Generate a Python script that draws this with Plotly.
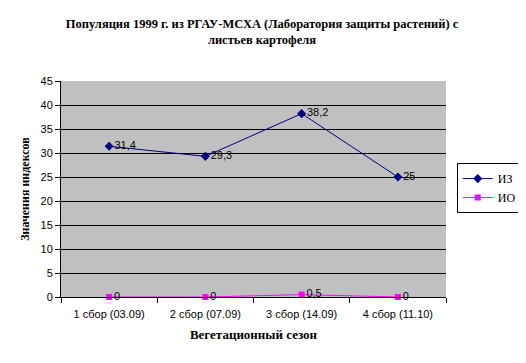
import plotly.graph_objects as go

categories = ["1 сбор (03.09)", "2 сбор (07.09)", "3 сбор (14.09)", "4 сбор (11.10)"]
iz_values = [31.4, 29.3, 38.2, 25]
io_values = [0, 0, 0.5, 0]

def fmt(v):
    s = ("%g" % v)
    return s.replace(".", ",")

SERIF = "Times New Roman, Liberation Serif"

fig = go.Figure()
fig.add_trace(go.Scatter(
    x=categories, y=iz_values, name="ИЗ", mode="lines+markers+text",
    line=dict(color="#000080", width=1),
    marker=dict(symbol="diamond", size=7, color="#000080"),
    text=[fmt(v) for v in iz_values], textposition="middle right",
    textfont=dict(family="Arial", size=11, color="black"),
    cliponaxis=False,
))
fig.add_trace(go.Scatter(
    x=categories, y=io_values, name="ИО", mode="lines+markers+text",
    line=dict(color="#FF00FF", width=1),
    marker=dict(symbol="square", size=6, color="#FF00FF"),
    text=[fmt(v) for v in io_values], textposition="middle right",
    textfont=dict(family="Arial", size=11, color="black"),
    cliponaxis=False,
))

# page has an 8px body margin, so margins are offset by 8px
fig.update_layout(
    width=526, height=363,
    margin=dict(l=53, r=86, t=73, b=74),
    paper_bgcolor="white", plot_bgcolor="#C0C0C0",
    title=dict(
        text="<b>Популяция 1999 г. из РГАУ-МСХА (Лаборатория защиты растений) с<br>листьев картофеля</b>",
        x=(262 - 8) / 526, xanchor="center", y=1 - 20 / 363, yanchor="top",
        font=dict(family=SERIF, size=12.5, color="black"),
    ),
    showlegend=True,
    legend=dict(
        x=1.028, y=0.62, xanchor="left", yanchor="top",
        bordercolor="black", borderwidth=1, bgcolor="white",
        font=dict(family=SERIF, size=12, color="black"),
        itemwidth=30, tracegroupgap=2,
    ),
    xaxis=dict(
        type="category", tickson="boundaries", range=[-0.5, 3.5],
        ticks="outside", ticklen=5, tickcolor="black",
        ticklabelstandoff=7,
        showline=True, linecolor="black", linewidth=1, mirror=False,
        showgrid=False, zeroline=False,
        tickfont=dict(family="Arial", size=11, color="black"),
        title=dict(text="<b>Вегетационный сезон</b>",
                   font=dict(family=SERIF, size=13, color="black"),
                   standoff=10),
    ),
    yaxis=dict(
        range=[0, 45], dtick=5,
        ticks="outside", ticklen=5, tickcolor="black",
        showline=True, linecolor="black", linewidth=1,
        showgrid=True, gridcolor="black", gridwidth=1,
        zeroline=False,
        tickfont=dict(family="Arial", size=11, color="black"),
        title=dict(text="<b>Значения индексов</b>",
                   font=dict(family=SERIF, size=12, color="black"),
                   standoff=8),
    ),
)

fig.write_html("out.html")
